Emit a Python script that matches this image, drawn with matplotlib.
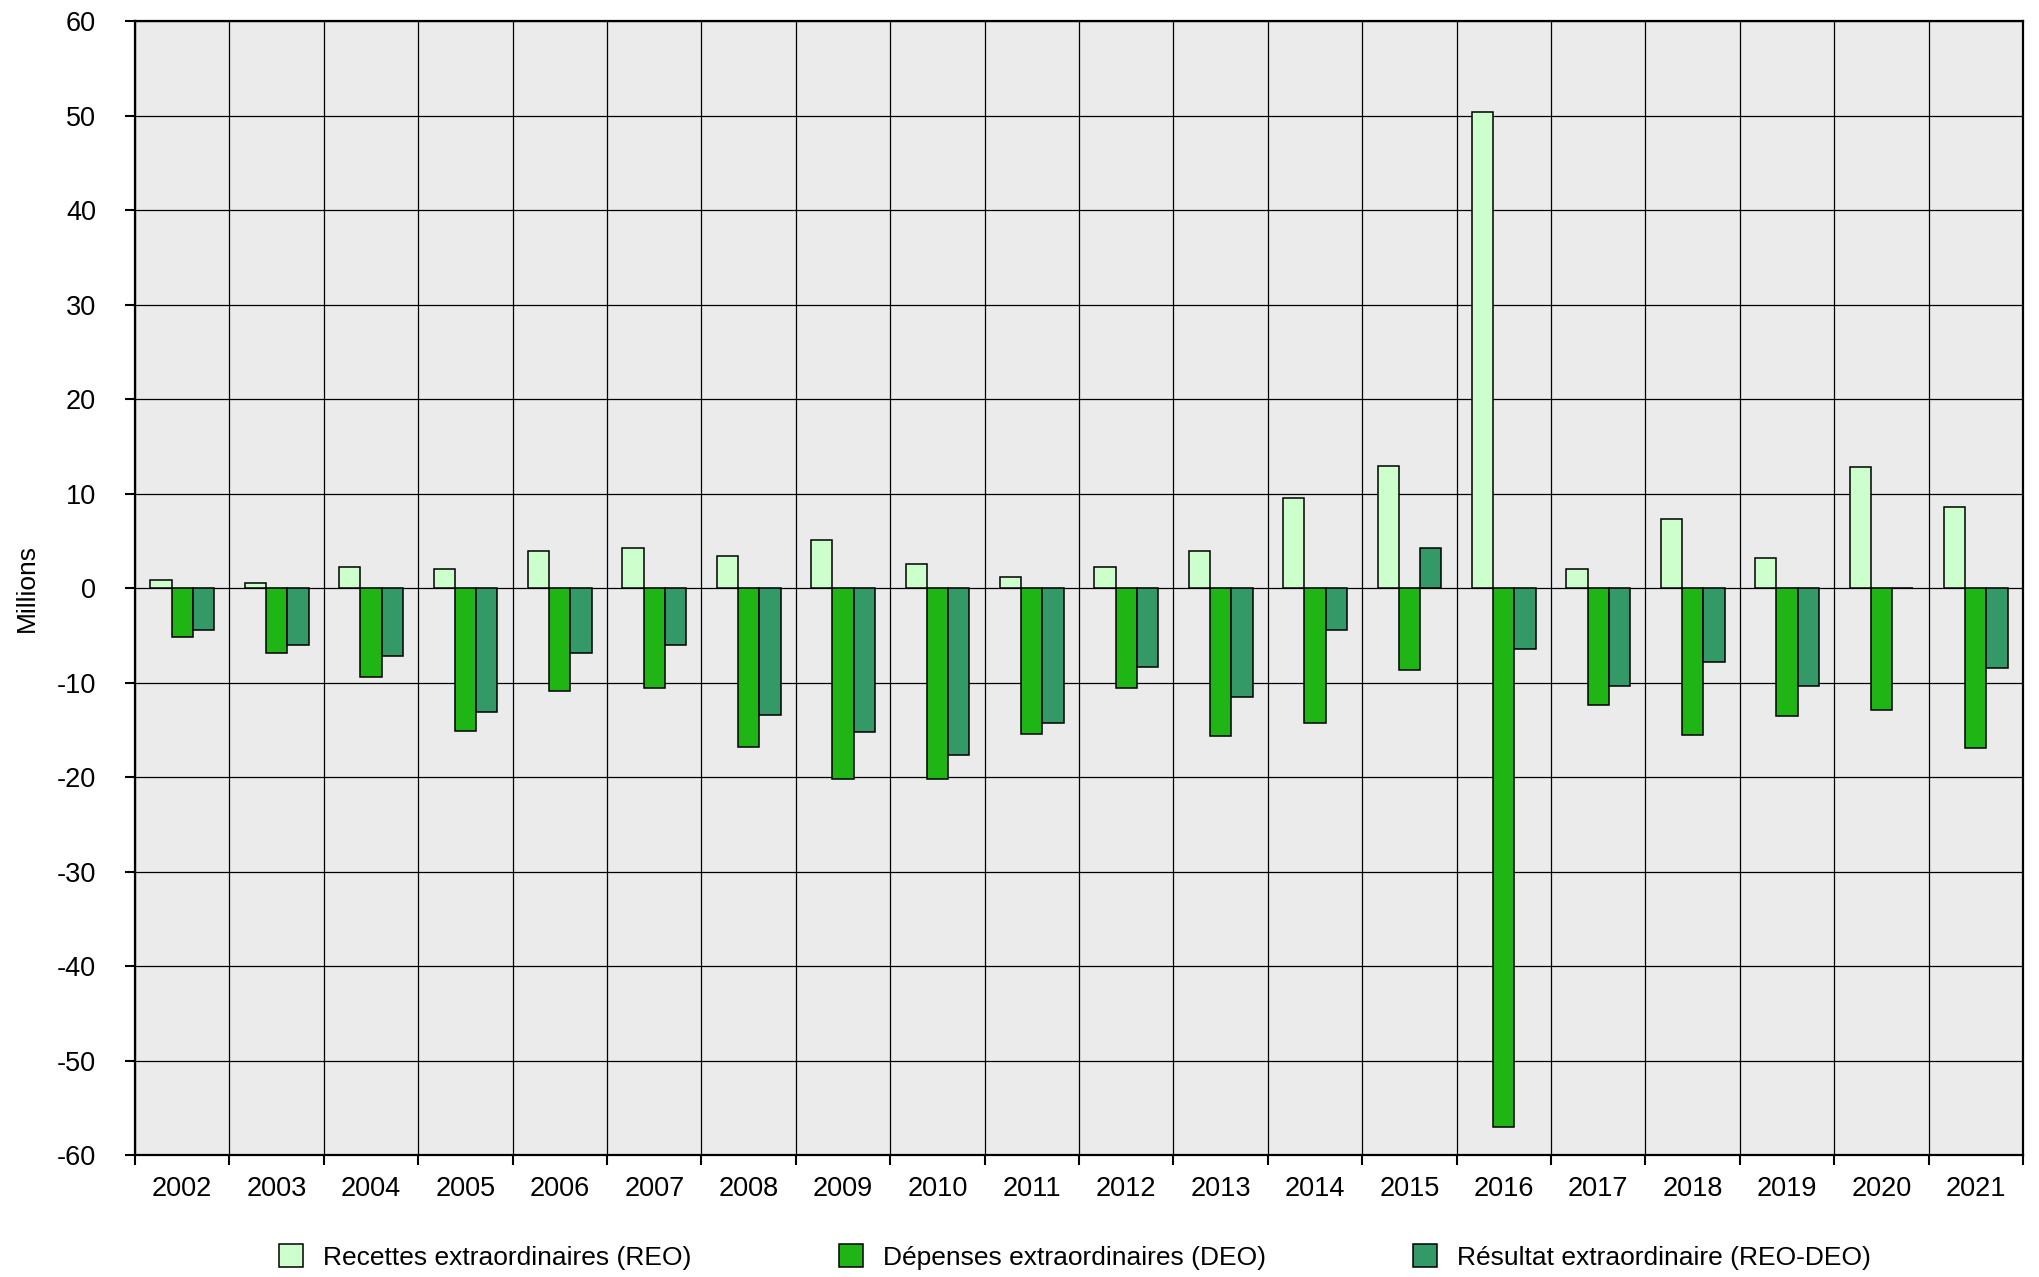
import matplotlib
matplotlib.use("Agg")
import matplotlib.pyplot as plt
import numpy as np
from matplotlib.patches import Patch

plt.rcParams['font.family'] = ['Liberation Sans', 'DejaVu Sans']
plt.rcParams['axes.unicode_minus'] = False

# Values in millions
YEARS = list(range(2002, 2022))
REO = [0.9, 0.55, 2.25, 2.05, 3.95, 4.25, 3.4, 5.05, 2.55, 1.15,
       2.2, 3.9, 9.55, 12.95, 50.4, 2.05, 7.35, 3.15, 12.8, 8.55]
DEO = [-5.2, -6.9, -9.45, -15.1, -10.9, -10.6, -16.8, -20.2, -20.2, -15.4,
       -10.6, -15.7, -14.3, -8.65, -57.0, -12.35, -15.5, -13.55, -12.9, -16.9]
RES = [-4.4, -6.05, -7.2, -13.1, -6.9, -6.05, -13.4, -15.2, -17.7, -14.3,
       -8.4, -11.5, -4.4, 4.25, -6.4, -10.35, -7.85, -10.35, 0.0, -8.45]

COLORS = {
    "reo": "#CCFFCC",
    "deo": "#1FB515",
    "res": "#339966",
}
LABELS = {
    "reo": "Recettes extraordinaires (REO)",
    "deo": "Dépenses extraordinaires (DEO)",
    "res": "Résultat extraordinaire (REO-DEO)",
}
FONT_SIZE = 19.5
LEGEND_SIZE = 19


def plot_results():
    fig = plt.figure(figsize=(20.4, 12.77), dpi=100)
    ax = fig.add_axes([0.0662, 0.0955, 0.9255, 0.888])
    ax.set_facecolor("#EBEBEB")

    x = np.arange(len(YEARS))
    width = 0.225

    ax.bar(x - width, REO, width, color=COLORS["reo"], edgecolor="black", linewidth=1.1, zorder=3)
    ax.bar(x, DEO, width, color=COLORS["deo"], edgecolor="black", linewidth=1.1, zorder=3)
    ax.bar(x + width, RES, width, color=COLORS["res"], edgecolor="black", linewidth=1.1, zorder=3)

    ax.set_xlim(-0.5, len(YEARS) - 0.5)
    ax.set_ylim(-60, 60)

    # boundaries between years carry the ticks and vertical grid
    ax.set_xticks(np.arange(-0.5, len(YEARS), 1.0))
    ax.set_xticklabels([])
    ax.set_xticks(x, minor=True)
    ax.set_xticklabels([str(y) for y in YEARS], minor=True, fontsize=FONT_SIZE)
    ax.tick_params(axis="x", which="minor", length=0, pad=15)
    ax.tick_params(axis="x", which="major", length=7, width=1.5, direction="out")

    ax.set_yticks(np.arange(-60, 61, 10))
    ax.set_yticklabels([str(v) for v in range(-60, 61, 10)], fontsize=FONT_SIZE)
    ax.tick_params(axis="y", length=7, width=1.5, direction="out", pad=21)

    ax.grid(True, which="major", color="black", linewidth=0.9, zorder=1)
    ax.set_axisbelow(True)
    for side in ["left", "right", "top", "bottom"]:
        ax.spines[side].set_linewidth(1.6)
        ax.spines[side].set_zorder(4)

    ax.set_ylabel("Millions", fontsize=LEGEND_SIZE)
    ax.yaxis.set_label_coords(-0.0508, 0.5)

    handles = [Patch(facecolor=COLORS[k], edgecolor="black", linewidth=1.1) for k in ["reo", "deo", "res"]]
    fig.legend(handles, [LABELS[k] for k in ["reo", "deo", "res"]],
               loc="center", bbox_to_anchor=(0.527, 1 - 1257 / 1277), ncol=3,
               frameon=False, fontsize=LEGEND_SIZE, handlelength=0.9, handleheight=0.95,
               handletextpad=0.75, columnspacing=5.6)

    fig.savefig("out.png", dpi=100)


if __name__ == "__main__":
    plot_results()
